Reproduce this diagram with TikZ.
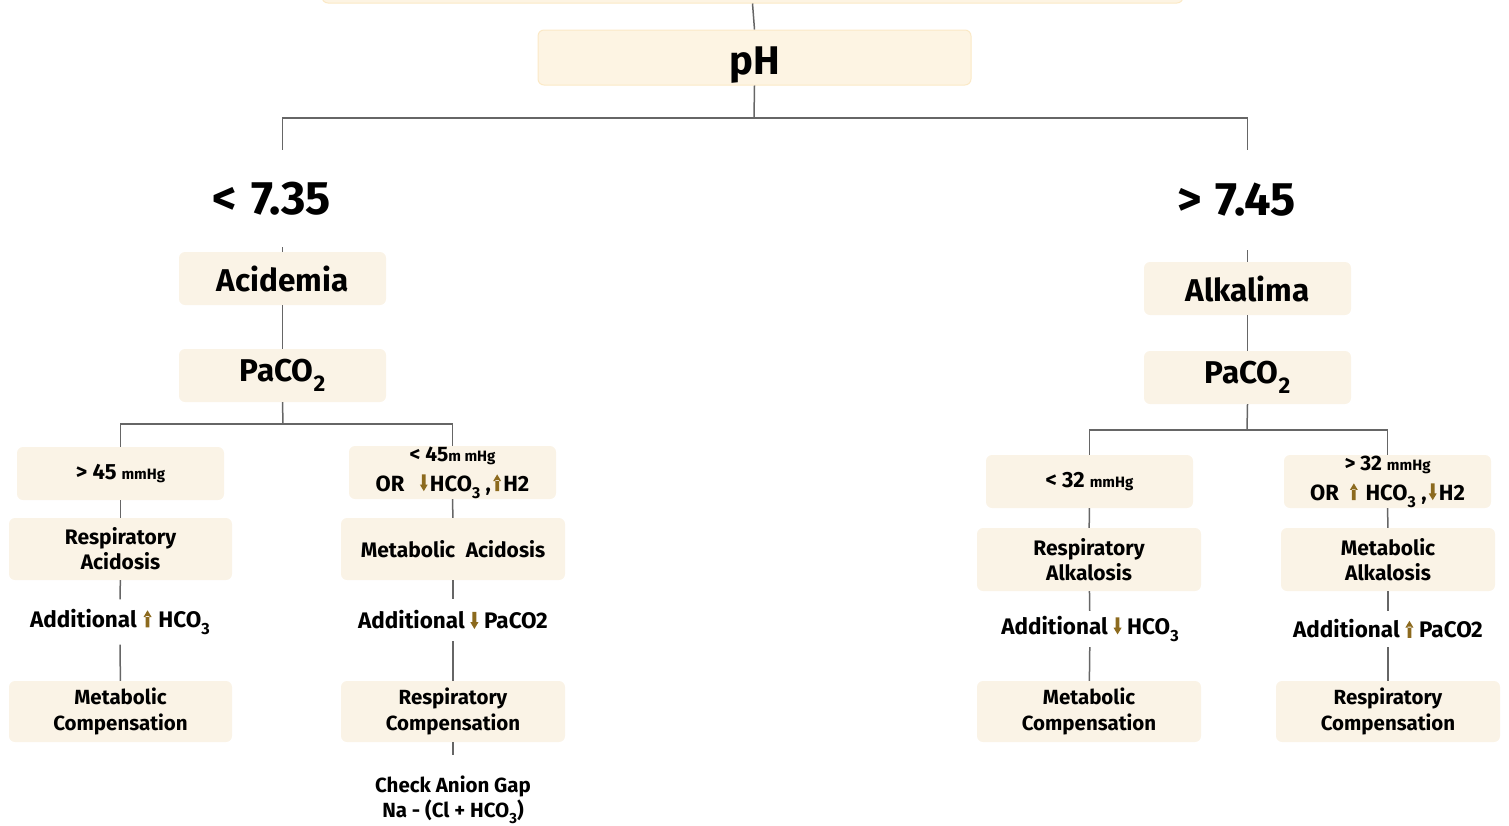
\documentclass[tikz,border=0pt]{standalone}
\usepackage{fontspec}
\setmainfont{Fira Sans}
\definecolor{cream}{HTML}{FAF3E6}
\definecolor{creamtop}{HTML}{FDF4E3}
\definecolor{creamedge}{HTML}{FBE9C6}
\definecolor{wire}{HTML}{666666}
\definecolor{arrowc}{HTML}{8C6A1E}

% small up / down arrows used inside the labels
\newcommand\arrup{\tikz[baseline=0pt,x=1em,y=1em,sharp corners]\fill[arrowc]
  (-0.085,0) rectangle (0.085,0.5) (-0.18,0.46) -- (0.18,0.46) -- (0,0.76) -- cycle;}
\newcommand\arrdn{\tikz[baseline=0pt,x=1em,y=1em,sharp corners]\fill[arrowc]
  (-0.085,0.26) rectangle (0.085,0.76) (-0.18,0.3) -- (0.18,0.3) -- (0,0) -- cycle;}
% low subscript
\newcommand\lowsub[1]{\raisebox{-0.32em}{\scalebox{0.72}{#1}}}
\newcommand\fs[2]{\fontsize{#1}{#2}\selectfont}

\tikzset{
  wire/.style={draw=wire, line width=1.5pt},
  card/.style={fill=cream, rounded corners=6pt, inner sep=0pt, align=center,
    font=\bfseries\fs{21}{25}},
  headcard/.style={card, fill=creamtop, draw=creamedge, line width=1pt},
  bare/.style={inner sep=0pt, align=center, font=\bfseries\fs{22.5}{25}},
  bigcard/.style={card, minimum width=207pt, minimum height=53pt, font=\bfseries\fs{31.5}{34}},
  compcard/.style={card, minimum width=224pt, minimum height=61pt, font=\bfseries\fs{20.5}{26}},
}

\begin{document}
\begin{tikzpicture}[x=1pt,y=-1pt]
\useasboundingbox (0,0) rectangle (1509,825);

% ---- top of the tree
\node[headcard, minimum width=861pt, minimum height=53pt] (top) at (752.5,-23.5) {};
\node[headcard, minimum width=433pt, minimum height=55pt, text height=34pt, text depth=0pt,
  font=\bfseries\fs{40}{44}] (ph) at (754.5,57.5) {pH};
\coordinate (j1) at (754,118);

\node[bare, minimum height=97pt, font=\bfseries\fs{47}{50}] (lt) at (272,198.5) {<\hspace{0.3em}7.35};
\node[bare, minimum height=100pt, font=\bfseries\fs{47}{50}] (gt) at (1236.5,200) {>\hspace{0.3em}7.45};

% ---- acid side
\node[bigcard] (acid) at (282.5,278.5) {Acidemia};
\node[bigcard] (pacoL) at (282.5,375.5) {PaCO\lowsub{2}};
\coordinate (jL) at (283,424);

\node[card, minimum width=207pt, minimum height=53pt] (g45) at (120.5,473.5)
  {{\fs{22}{24}> 45} {\fs{15}{16}mmHg}};
\node[card, minimum width=207pt, minimum height=53pt] (l45) at (452.5,472.5)
  {{\fs{21}{24}< 45}{\fs{15}{16}m mHg}\\[5pt]{\fs{22}{26}OR\hspace{0.7em}\arrdn\hspace{0.1em}HCO\lowsub{3}\hspace{0.25em},\hspace{0.1em}\arrup\hspace{0.1em}H2}};

\node[card, minimum width=223pt, minimum height=62pt] (respAc) at (120.5,549) {Respiratory\\Acidosis};
\node[card, minimum width=224pt, minimum height=62pt] (metAc) at (453,549) {Metabolic\enspace Acidosis};

\node[bare, minimum height=45pt] (addL1) at (120,622) {Additional\hspace{0.3em}\arrup\hspace{0.3em}HCO\lowsub{3}};
\node[bare, minimum height=42pt] (addL2) at (453,620) {Additional\hspace{0.25em}\arrdn\hspace{0.25em}PaCO2};

\node[compcard, minimum width=223pt] (metCompL) at (120.5,711.5) {Metabolic\\Compensation};
\node[compcard] (respCompL) at (453,711.5) {Respiratory\\Compensation};

\node[bare, minimum height=90pt, font=\bfseries\fs{20.5}{25}] (gap) at (453,800)
  {Check Anion Gap\\Na - (Cl + HCO\lowsub{3})};

% ---- alkaline side
\node[bigcard] (alk) at (1247.5,288.5) {Alkalima};
\node[bigcard] (pacoR) at (1247.5,377.5) {PaCO\lowsub{2}};
\coordinate (jR) at (1247,430);

\node[card, minimum width=207pt, minimum height=53pt] (l32) at (1089.5,481.5)
  {{\fs{22}{24}< 32} {\fs{15}{16}mmHg}};
\node[card, minimum width=207pt, minimum height=53pt] (g32) at (1387.5,481.5)
  {{\fs{21}{24}> 32} {\fs{15}{16}mmHg}\\[5pt]{\fs{22}{26}OR\hspace{0.5em}\arrup\hspace{0.35em}HCO\lowsub{3}\hspace{0.25em},\hspace{0.1em}\arrdn\hspace{0.1em}H2}};

\node[card, minimum width=224pt, minimum height=63pt] (respAlk) at (1089,559.5) {Respiratory\\Alkalosis};
\node[card, minimum width=214pt, minimum height=63pt] (metAlk) at (1388,559.5) {Metabolic\\Alkalosis};

\node[bare, minimum height=36pt] (addR1) at (1090,629) {Additional\hspace{0.25em}\arrdn\hspace{0.25em}HCO\lowsub{3}};
\node[bare, minimum height=36pt] (addR2) at (1388,629) {Additional\hspace{0.25em}\arrup\hspace{0.25em}PaCO2};

\node[compcard] (metCompR) at (1089,711.5) {Metabolic\\Compensation};
\node[compcard] (respCompR) at (1388,711.5) {Respiratory\\Compensation};

% ---- connectors
\draw[wire] (top.south) -- (ph.north);
\draw[wire] (ph.south) -- (j1);
\draw[wire] (j1) -| (lt.north -| acid.north);
\draw[wire] (j1) -| (gt.north -| alk.north);
\draw[wire] (lt.south -| acid.north) -- (acid.north);
\draw[wire] (gt.south -| alk.north) -- (alk.north);

\draw[wire] (acid) -- (pacoL);
\draw[wire] (pacoL.south) -- (jL);
\draw[wire] (jL) -| (g45.north);
\draw[wire] (jL) -| (l45.north);
\draw[wire] (g45) -- (respAc);
\draw[wire] (l45) -- (metAc);
\draw[wire] (respAc) -- (addL1);
\draw[wire] (metAc) -- (addL2);
\draw[wire] (addL1) -- (metCompL);
\draw[wire] (addL2) -- (respCompL);
\draw[wire] (respCompL) -- (gap);

\draw[wire] (alk) -- (pacoR);
\draw[wire] (pacoR.south) -- (jR);
\draw[wire] (jR) -| (l32.north);
\draw[wire] (jR) -| (g32.north);
\draw[wire] (l32) -- (respAlk);
\draw[wire] (g32) -- (metAlk);
\draw[wire] (respAlk) -- (addR1);
\draw[wire] (metAlk) -- (addR2);
\draw[wire] (addR1) -- (metCompR);
\draw[wire] (addR2) -- (respCompR);
\end{tikzpicture}
\end{document}
